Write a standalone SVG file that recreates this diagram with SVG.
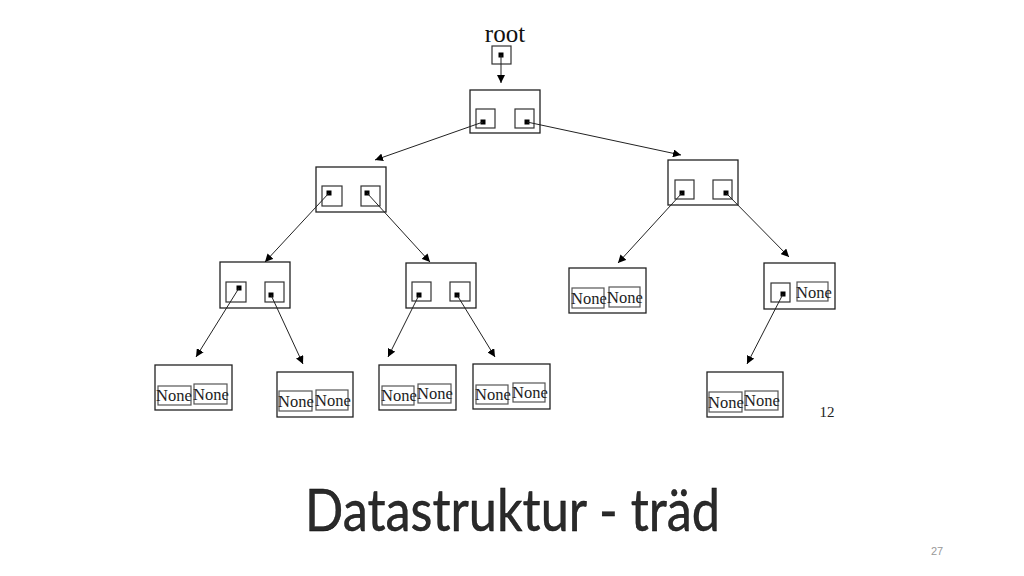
<svg xmlns="http://www.w3.org/2000/svg" width="1024" height="576" viewBox="0 0 1024 576">
<style>
.box{fill:#fff;stroke:#222;stroke-width:1.3}
.cell{fill:none;stroke:#333;stroke-width:1.2}
.ncell{fill:none;stroke:#555;stroke-width:1.2}
.dot{fill:#000}
.none{font-family:"Liberation Serif",serif;font-size:16.5px;fill:#222}
.edge{stroke:#222;stroke-width:1;fill:none;marker-end:url(#ah)}
</style>
<defs>
<marker id="ah" viewBox="0 0 10 10" refX="10" refY="5" markerWidth="8" markerHeight="8" markerUnits="userSpaceOnUse" orient="auto">
<path d="M0,0 L10,5 L0,10 z" fill="#000"/>
</marker>
</defs>
<rect width="1024" height="576" fill="#fff"/>

<g id="root">
<text x="505" y="42" text-anchor="middle" font-family="Liberation Serif, serif" font-size="25" fill="#111">root</text>
<rect class="cell" x="492" y="46" width="19" height="18"/>
<rect class="dot" x="498.5" y="52.5" width="5" height="5"/>
</g>

<g id="n1">
<rect class="box" x="470" y="90" width="70" height="43"/>
<rect class="cell" x="476" y="109" width="19" height="19"/>
<rect class="cell" x="515" y="109" width="19" height="19"/>
<rect class="dot" x="480.5" y="119.5" width="5" height="5"/>
<rect class="dot" x="524.5" y="119.5" width="5" height="5"/>
</g>

<g id="n2">
<rect class="box" x="316" y="167" width="70" height="45"/>
<rect class="cell" x="322" y="186" width="20" height="20"/>
<rect class="cell" x="361" y="186" width="19" height="20"/>
<rect class="dot" x="326.5" y="190.5" width="5" height="5"/>
<rect class="dot" x="364.5" y="190.5" width="5" height="5"/>
</g>

<g id="n3">
<rect class="box" x="668" y="160" width="70" height="45"/>
<rect class="cell" x="675" y="180" width="19" height="19"/>
<rect class="cell" x="713" y="180" width="19" height="19"/>
<rect class="dot" x="679.5" y="190.5" width="5" height="5"/>
<rect class="dot" x="723.5" y="190.5" width="5" height="5"/>
</g>

<g id="n4">
<rect class="box" x="220" y="262" width="70" height="46"/>
<rect class="cell" x="226" y="282" width="20" height="20"/>
<rect class="cell" x="265" y="282" width="19" height="20"/>
<rect class="dot" x="236.5" y="285.5" width="5" height="5"/>
<rect class="dot" x="268.5" y="292.5" width="5" height="5"/>
</g>

<g id="n5">
<rect class="box" x="406" y="263" width="70" height="45"/>
<rect class="cell" x="412" y="282" width="19" height="19"/>
<rect class="cell" x="450" y="282" width="20" height="19"/>
<rect class="dot" x="416.5" y="292.5" width="5" height="5"/>
<rect class="dot" x="454.5" y="292.5" width="5" height="5"/>
</g>

<g id="n6">
<rect class="box" x="569" y="268" width="77" height="45"/>
<rect class="ncell" x="572" y="288" width="32" height="20"/>
<rect class="ncell" x="609" y="287" width="31" height="20"/>
<text class="none" x="571" y="304">None</text>
<text class="none" x="607" y="303">None</text>
</g>

<g id="n7">
<rect class="box" x="764" y="263" width="71" height="46"/>
<rect class="cell" x="771" y="283" width="19" height="19"/>
<rect class="dot" x="780.5" y="291.5" width="5" height="5"/>
<rect class="ncell" x="797" y="282" width="31" height="19"/>
<text class="none" x="796" y="298">None</text>
</g>

<g id="n8">
<rect class="box" x="155" y="365" width="77" height="45"/>
<rect class="ncell" x="158" y="386" width="33" height="19"/>
<rect class="ncell" x="194" y="384" width="33" height="20"/>
<text class="none" x="156" y="401">None</text>
<text class="none" x="193" y="400">None</text>
</g>

<g id="n9">
<rect class="box" x="277" y="372" width="76" height="45"/>
<rect class="ncell" x="279" y="391" width="33" height="20"/>
<rect class="ncell" x="316" y="390" width="32" height="20"/>
<text class="none" x="278" y="407">None</text>
<text class="none" x="315" y="406">None</text>
</g>

<g id="n10">
<rect class="box" x="379" y="365" width="77" height="45"/>
<rect class="ncell" x="382" y="386" width="32" height="19"/>
<rect class="ncell" x="418" y="384" width="33" height="19"/>
<text class="none" x="381" y="401">None</text>
<text class="none" x="417" y="399">None</text>
</g>

<g id="n11">
<rect class="box" x="473" y="364" width="77" height="45"/>
<rect class="ncell" x="476" y="385" width="32" height="19"/>
<rect class="ncell" x="513" y="383" width="32" height="19"/>
<text class="none" x="475" y="400">None</text>
<text class="none" x="512" y="398">None</text>
</g>

<g id="n12">
<rect class="box" x="707" y="372" width="76" height="45"/>
<rect class="ncell" x="709" y="392" width="33" height="20"/>
<rect class="ncell" x="745" y="391" width="33" height="19"/>
<text class="none" x="708" y="408">None</text>
<text class="none" x="744" y="406">None</text>
</g>

<g id="connectors">
<line class="edge" x1="501" y1="55" x2="501" y2="83"/>
<line class="edge" x1="483" y1="122" x2="375" y2="160"/>
<line class="edge" x1="527" y1="122" x2="681" y2="155"/>
<line class="edge" x1="329" y1="193" x2="265" y2="262"/>
<line class="edge" x1="367" y1="193" x2="430" y2="262"/>
<line class="edge" x1="682" y1="193" x2="618" y2="263"/>
<line class="edge" x1="726" y1="193" x2="789" y2="257"/>
<line class="edge" x1="239" y1="288" x2="196" y2="357"/>
<line class="edge" x1="271" y1="295" x2="303" y2="364"/>
<line class="edge" x1="419" y1="295" x2="388" y2="357"/>
<line class="edge" x1="457" y1="295" x2="495" y2="357"/>
<line class="edge" x1="783" y1="294" x2="747" y2="364"/>
</g>

<text x="827" y="417" text-anchor="middle" font-family="Liberation Serif, serif" font-size="15" fill="#222">12</text>

<text x="305" y="531" font-family="Lato, Open Sans, sans-serif" font-weight="400" font-size="59" fill="#2a2a2a" stroke="#000" stroke-width="0.4" textLength="415" lengthAdjust="spacingAndGlyphs">Datastruktur - träd</text>

<text x="937" y="555" text-anchor="middle" font-family="Liberation Sans, sans-serif" font-size="11" fill="#999">27</text>
</svg>
